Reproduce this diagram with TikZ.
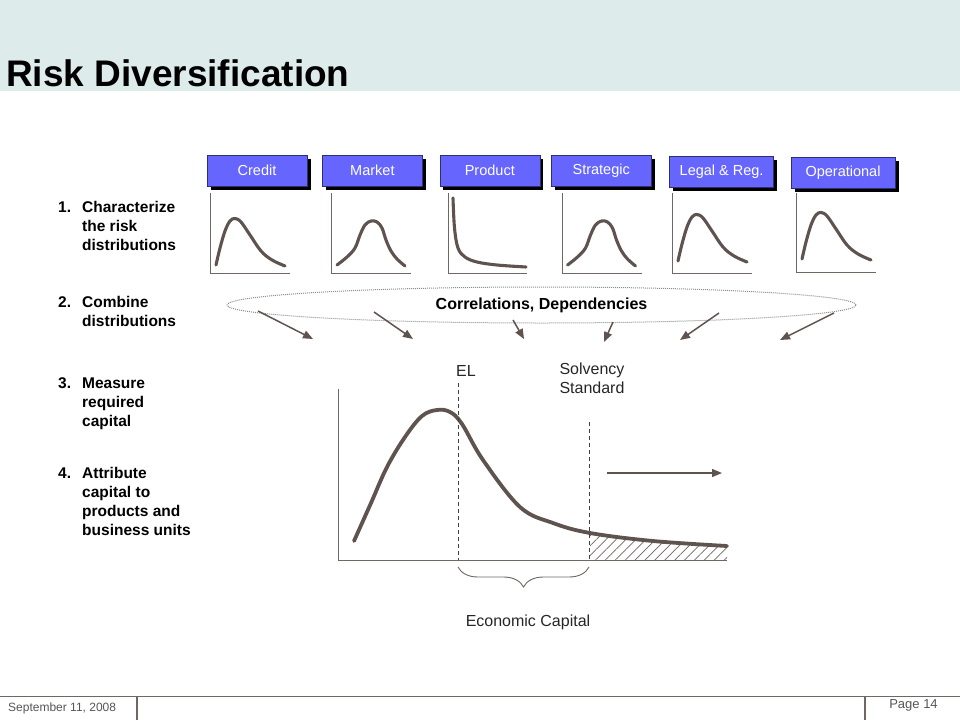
\documentclass[tikz,border=0pt]{standalone}
\usepackage{fontspec}
\setmainfont{Liberation Sans}
\usepackage{tikz}
\usetikzlibrary{arrows.meta}
\usetikzlibrary{positioning}
\usetikzlibrary{shapes}
\usetikzlibrary{shadows}
\usetikzlibrary{patterns.meta}
\usetikzlibrary{decorations.pathreplacing}
\definecolor{headbg}{RGB}{221,235,234}
\definecolor{riskblue}{RGB}{102,102,255}
\definecolor{curvebrown}{RGB}{94,83,79}
\definecolor{axisgrey}{RGB}{112,102,98}
\definecolor{footgrey}{RGB}{85,85,85}
\tikzstyle{riskbox}=[draw=riskblue!45!black,fill=riskblue,text=white,minimum width=100pt,minimum height=31pt,inner sep=2pt,font=\fontsize{14.5}{17}\selectfont,drop shadow={shadow xshift=3.5pt,shadow yshift=-3.5pt,fill=black,opacity=1}]
\tikzstyle{distcurve}=[curvebrown,line width=3.1pt,line cap=round,line join=round]
\tikzstyle{axisline}=[axisgrey,line width=0.9pt]

\begin{document}
\begin{tikzpicture}[x=1pt,y=-1pt,link/.style={curvebrown,line width=1.5pt,-{Triangle[length=10pt,width=8pt]}}]
	\tikzstyle{plainlabel}=[font=\fontsize{16}{19}\selectfont,text=black!85,inner sep=0pt]
	\tikzstyle{stepitem}=[anchor=north west,inner sep=0pt,font=\fontsize{15.5}{19}\selectfont\bfseries]
	\tikzstyle{levelline}=[black!75,line width=0.8pt,dash pattern=on 4pt off 3pt]
	\tikzstyle{capbrace}=[axisgrey,line width=0.9pt,decorate,decoration={brace,mirror,amplitude=20pt}]
	\useasboundingbox (0,0) rectangle (960,720);
	\fill[headbg] (0,0) rectangle (960,91);
	\node[anchor=base west,inner sep=0pt,font=\fontsize{37}{40}\selectfont\bfseries] (title) at (6,86) {Risk Diversification};

	\node[stepitem] (step1) at (58,198.5) {\begin{tabular}{@{}l@{}l@{}}\makebox[24pt][l]{1.} & Characterize\\ & the risk\\ & distributions\end{tabular}};
	\node[stepitem] (step2) at (58,293.5) {\begin{tabular}{@{}l@{}l@{}}\makebox[24pt][l]{2.} & Combine\\ & distributions\end{tabular}};
	\node[stepitem] (step3) at (58,375) {\begin{tabular}{@{}l@{}l@{}}\makebox[24pt][l]{3.} & Measure\\ & required\\ & capital\end{tabular}};
	\node[stepitem] (step4) at (58,465) {\begin{tabular}{@{}l@{}l@{}}\makebox[24pt][l]{4.} & Attribute\\ & capital to\\ & products and\\ & business units\end{tabular}};

	\node[riskbox] (credit) at (257,170.5) {Credit};
	\node[riskbox,right=15pt of credit] (market) {Market};
	\node[riskbox,right=17pt of market] (product) {Product};
	\node[riskbox,right=11pt of product] (strategic) {Strategic};
	\node[riskbox,right=18pt of strategic,yshift=-1.5pt,minimum width=104pt] (legal) {Legal \& Reg.};
	\node[riskbox,right=17pt of legal,yshift=-1pt,minimum width=104pt] (operational) {Operational};

	\draw[axisline] (210.7,193) -- (210.7,273) -- (290,273);
	\draw[distcurve] plot[smooth,tension=0.6] coordinates {(216,265) (220,248) (225,231) (230,221) (235,218.5) (241,222) (250,235) (261,251) (272,260) (285,266)};
	\draw[axisline] (331.4,193) -- (331.4,273) -- (411,273);
	\draw[distcurve] plot[smooth,tension=0.6] coordinates {(337,265) (347,257) (355,248) (360,235) (365,225) (371,221) (377,222) (382,228) (386,240) (391,251) (397,259) (405,266)};
	\draw[axisline] (448,193) -- (448,273) -- (527,273);
	\draw[distcurve] plot[smooth,tension=0.6] coordinates {(453,198) (454.5,228) (458,248) (465,257) (477,262) (497,265) (526,267)};
	\draw[axisline] (562,193) -- (562,273) -- (642,273);
	\draw[distcurve,shift={(230.5,0)}] plot[smooth,tension=0.6] coordinates {(337,265) (347,257) (355,248) (360,235) (365,225) (371,221) (377,222) (382,228) (386,240) (391,251) (397,259) (405,266)};
	\draw[axisline] (672,193) -- (672,273) -- (752,273);
	\draw[distcurve,shift={(462,-4)}] plot[smooth,tension=0.6] coordinates {(216,265) (220,248) (225,231) (230,221) (235,218.5) (241,222) (250,235) (261,251) (272,260) (285,266)};
	\draw[axisline] (796,193) -- (796,272) -- (876,272);
	\draw[distcurve,shift={(586,-6)}] plot[smooth,tension=0.6] coordinates {(216,265) (220,248) (225,231) (230,221) (235,218.5) (241,222) (250,235) (261,251) (272,260) (285,266)};

	\node[ellipse,draw=black!45,densely dotted,line width=1pt,minimum width=629pt,minimum height=36pt,inner sep=0pt,font=\fontsize{16}{19}\selectfont\bfseries] (corr) at (541.5,305) {Correlations, Dependencies};
	\coordinate (out1) at (258,311);
	\coordinate (out2) at (374,312);
	\coordinate (out3) at (513,320);
	\coordinate (out4) at (613,322);
	\coordinate (out5) at (719,313);
	\coordinate (out6) at (834,313);
	\coordinate (in1) at (313,339);
	\coordinate (in2) at (413,339);
	\coordinate (in3) at (524,339);
	\coordinate (in4) at (604,342);
	\coordinate (in5) at (680,340);
	\coordinate (in6) at (780,340);
	\draw[link] (out1) -- (in1);
	\draw[link] (out2) -- (in2);
	\draw[link] (out3) -- (in3);
	\draw[link] (out4) -- (in4);
	\draw[link] (out5) -- (in5);
	\draw[link] (out6) -- (in6);

	\path[pattern={Lines[angle=45,distance=7pt,line width=0.7pt]},pattern color=axisgrey] plot[smooth,tension=0.6] coordinates {(590,533) (653,541) (727,546)} -- (727,560) -- (590,560) -- cycle;
	\draw[axisline] (338,389) -- (338,560) -- (727,560);
	\draw[distcurve,line width=3.8pt] plot[smooth,tension=0.6] coordinates {(354,541) (371,503) (387,467) (405,437) (422,416) (437,410) (450,412) (462,424) (483,460) (520,507) (553,523) (590,533) (653,541) (727,546)};
	\draw[levelline] (458,383) -- (458,560);
	\draw[levelline] (589,422) -- (589,560);
	\node[plainlabel] (el) at (466,371) {EL};
	\node[plainlabel,align=center] (solvency) at (592,378.5) {Solvency\\Standard};
	\draw[capbrace] (458,567) -- (589,567);
	\node[plainlabel] (capital) at (528,622) {Economic Capital};
	\coordinate (tailfrom) at (607,473);
	\coordinate (tailto) at (722,473);
	\draw[link,line width=1.3pt] (tailfrom) -- (tailto);

	\draw[axisgrey,line width=1.2pt] (0,696.5) -- (960,696.5);
	\draw[axisgrey,line width=1.2pt] (137,696.5) -- (137,720);
	\draw[axisgrey,line width=1.2pt] (865,696.5) -- (865,720);
	\node[anchor=west,text=footgrey,font=\fontsize{12}{14}\selectfont,inner sep=0pt] (date) at (8,708.5) {September 11, 2008};
	\node[text=footgrey,font=\fontsize{13}{15}\selectfont,inner sep=0pt] (page) at (913.5,705.5) {Page 14};
\end{tikzpicture}
\end{document}
